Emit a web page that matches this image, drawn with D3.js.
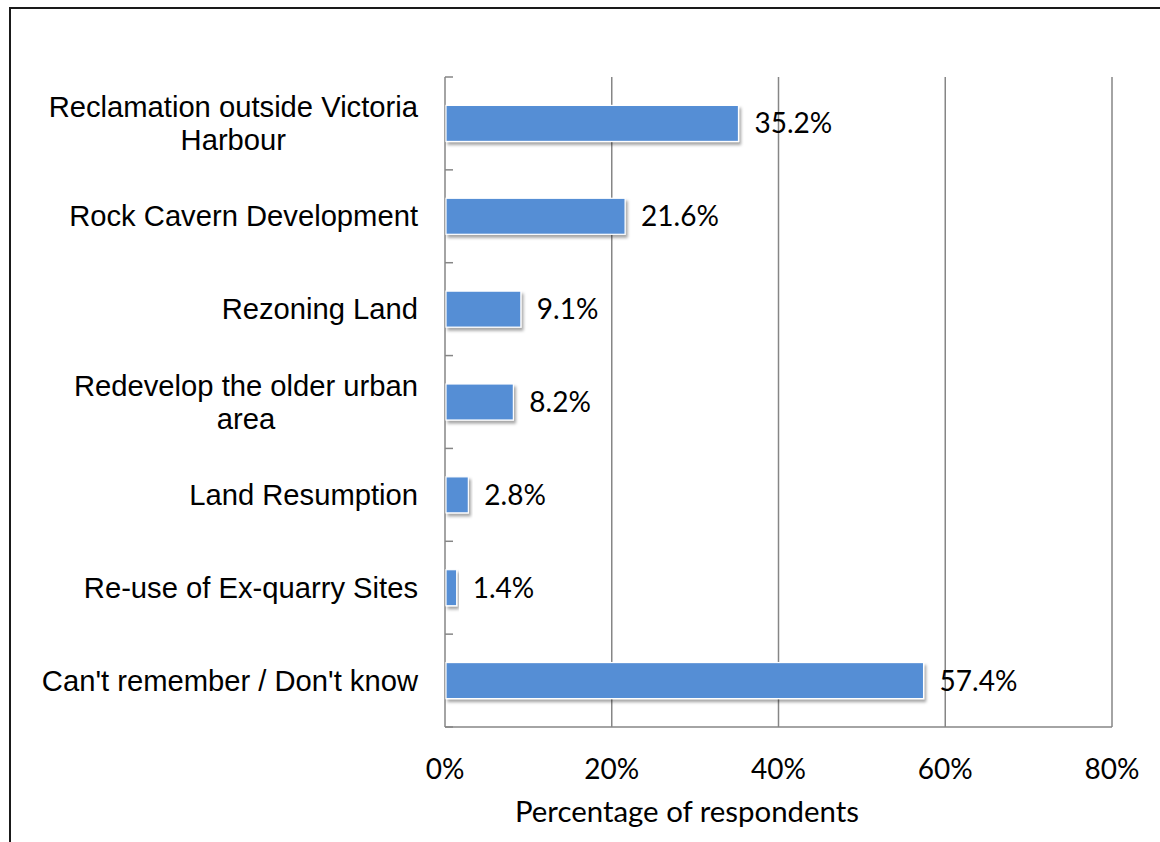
<!DOCTYPE html>
<html>
<head>
<meta charset="utf-8">
<script src="https://cdn.jsdelivr.net/npm/d3@7"></script>
<style>
  html, body { margin: 0; padding: 0; background: #fff; }
  svg { display: block; }
</style>
</head>
<body>
<svg id="chart" width="1160" height="842"></svg>
<script>
// Survey responses: land supply options respondents recalled
const categories = [
  "Reclamation outside Victoria\nHarbour",
  "Rock Cavern Development",
  "Rezoning Land",
  "Redevelop the older urban\narea",
  "Land Resumption",
  "Re-use of Ex-quarry Sites",
  "Can't remember / Don't know"
];
const values = [35.2, 21.6, 9.1, 8.2, 2.8, 1.4, 57.4];
const xTicks = [0, 20, 40, 60, 80];
const xTitle = "Percentage of respondents";

const svg = d3.select("#chart");
const width = 1160, height = 842;
const plot = { left: 445, right: 1112, top: 77, bottom: 727 };

const gridColor = "#868686";
const barColor = "#558ED5";
const numFont = "Lato, 'Open Sans', sans-serif";
const catFont = "'Liberation Sans', Arial, sans-serif";

// Outer frame
svg.append("rect")
  .attr("x", 10).attr("y", 8)
  .attr("width", width + 20).attr("height", height + 20)
  .attr("fill", "#fff")
  .attr("stroke", "#1a1a1a").attr("stroke-width", 2);

const defs = svg.append("defs");
const shadow = defs.append("filter").attr("id", "barShadow")
  .attr("x", "-10%").attr("y", "-30%").attr("width", "130%").attr("height", "180%");
shadow.append("feDropShadow")
  .attr("dx", 2).attr("dy", 3).attr("stdDeviation", 1.8)
  .attr("flood-color", "#000").attr("flood-opacity", 0.35);

const x = d3.scaleLinear().domain([0, 80]).range([plot.left, plot.right]);
const y = d3.scaleBand().domain(categories).range([plot.top, plot.bottom])
  .paddingInner(0.612).paddingOuter(0.306);
const step = y.step();
const gap = (step - y.bandwidth()) / 2;

// Vertical gridlines
svg.append("g").selectAll("line").data(xTicks.slice(1)).join("line")
  .attr("x1", d => x(d)).attr("x2", d => x(d))
  .attr("y1", plot.top).attr("y2", plot.bottom)
  .attr("stroke", gridColor).attr("stroke-width", 1.5);

// Category axis line and inward ticks
svg.append("line")
  .attr("x1", plot.left).attr("x2", plot.left)
  .attr("y1", plot.top).attr("y2", plot.bottom)
  .attr("stroke", gridColor).attr("stroke-width", 1.5);
const boundaries = categories.map(c => y(c) - gap).concat([plot.bottom]);
svg.append("g").selectAll("line").data(boundaries).join("line")
  .attr("x1", plot.left).attr("x2", plot.left + 8)
  .attr("y1", d => d).attr("y2", d => d)
  .attr("stroke", gridColor).attr("stroke-width", 1.5);

// Value axis baseline
svg.append("line")
  .attr("x1", plot.left).attr("x2", plot.right)
  .attr("y1", plot.bottom).attr("y2", plot.bottom)
  .attr("stroke", gridColor).attr("stroke-width", 1.5);

// Bars
svg.append("g").selectAll("rect").data(values).join("rect")
  .attr("x", x(0) + 1)
  .attr("y", (d, i) => y(categories[i]))
  .attr("width", d => x(d) - x(0) - 1)
  .attr("height", y.bandwidth())
  .attr("fill", barColor)
  .attr("stroke", "#fff").attr("stroke-width", 1.2)
  .attr("filter", "url(#barShadow)");

// Value labels
svg.append("g").selectAll("text").data(values).join("text")
  .attr("x", d => x(d) + 16)
  .attr("y", (d, i) => y(categories[i]) + y.bandwidth() / 2 + 10)
  .attr("font-family", numFont).attr("font-size", 28)
  .attr("fill", "#000")
  .text(d => d.toFixed(1) + "%");

// Category labels: multi-line blocks centred, block right edge at labelRight
const labelRight = 418;
const lineH = 33;
const catG = svg.append("g");
categories.forEach(c => {
  const lines = c.split("\n");
  const cy = y(c) + y.bandwidth() / 2;
  const t = catG.append("text")
    .attr("font-family", catFont).attr("font-size", 29.2)
    .attr("fill", "#000").attr("text-anchor", "middle");
  lines.forEach((ln, i) => {
    t.append("tspan")
      .attr("y", cy + 10 + (i - (lines.length - 1) / 2) * lineH)
      .text(ln);
  });
  const spans = t.selectAll("tspan").nodes();
  const w = d3.max(spans, n => n.getComputedTextLength());
  t.selectAll("tspan").attr("x", labelRight - w / 2);
});

// Value axis tick labels
svg.append("g").selectAll("text").data(xTicks).join("text")
  .attr("x", d => x(d))
  .attr("y", 779)
  .attr("text-anchor", "middle")
  .attr("font-family", numFont).attr("font-size", 28)
  .attr("fill", "#000")
  .text(d => d + "%");

// Axis title
svg.append("text")
  .attr("x", 687).attr("y", 822)
  .attr("text-anchor", "middle")
  .attr("font-family", numFont).attr("font-size", 28.5)
  .attr("textLength", 344).attr("lengthAdjust", "spacingAndGlyphs")
  .attr("fill", "#000")
  .text(xTitle);
</script>
</body>
</html>
